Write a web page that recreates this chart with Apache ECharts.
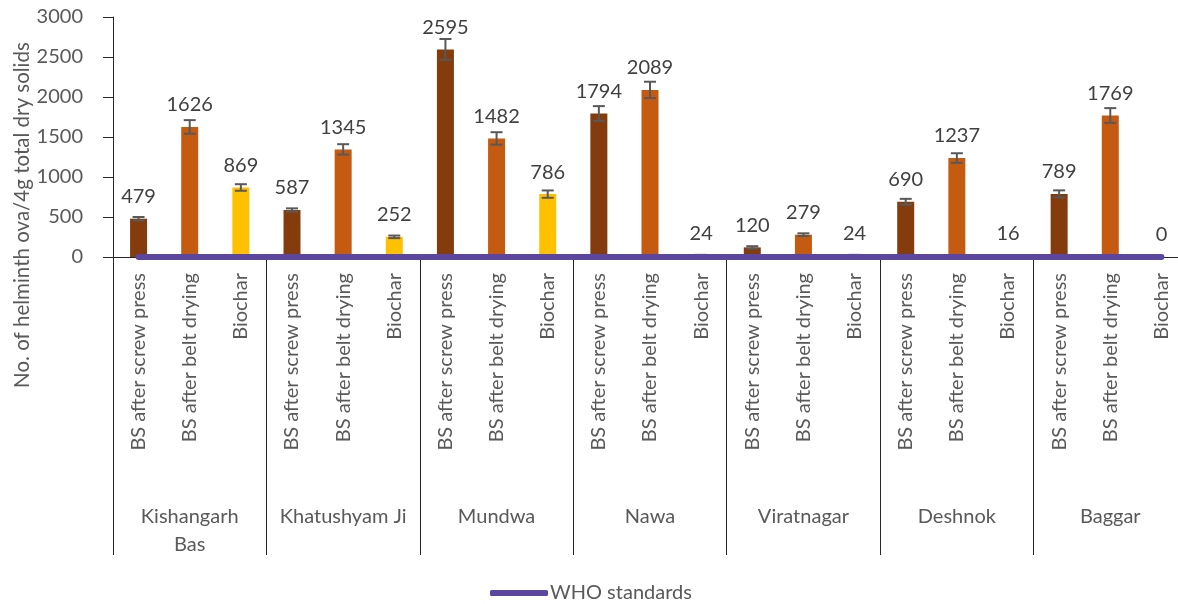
<!DOCTYPE html>
<html>
<head>
<meta charset="utf-8">
<script src="https://cdn.jsdelivr.net/npm/echarts@6/dist/echarts.min.js"></script>
<style>
html,body{margin:0;padding:0;background:#fff;overflow:hidden;}
#chart{width:1190px;height:604px;}
</style>
</head>
<body>
<div id="chart"></div>
<script>
// ---- data ----
const groups = ['Kishangarh\nBas', 'Khatushyam Ji', 'Mundwa', 'Nawa', 'Viratnagar', 'Deshnok', 'Baggar'];
const stages = ['BS after screw press', 'BS after belt drying', 'Biochar'];
const screwPress = [479, 587, 2595, 1794, 120, 690, 789];
const beltDrying = [1626, 1345, 1482, 2089, 279, 1237, 1769];
const biochar = [869, 252, 786, 24, 24, 16, 0];
const screwPressErr = [21, 21, 130, 92, 15, 37, 44];
const beltDryingErr = [85, 65, 78, 102, 17, 60, 92];
const biocharErr = [41, 16, 46, 3, 3, 2, 0];
const whoStandard = 0;
const yTicks = { min: 0, max: 3000, interval: 500 };
const yTitle = 'No. of helminth ova/4g total dry solids';
const legendName = 'WHO standards';

// ---- build ----
const colors = ['#843C0C', '#C55A11', '#FFC000'];
const cats = [], values = [], errs = [];
groups.forEach((g, i) => {
  [screwPress, beltDrying, biochar].forEach((arr, k) => {
    cats.push(stages[k]);
    values.push({ value: arr[i], itemStyle: { color: colors[k] } });
  });
  errs.push([cats.length - 3, screwPress[i], screwPressErr[i]]);
  errs.push([cats.length - 2, beltDrying[i], beltDryingErr[i]]);
  errs.push([cats.length - 1, biochar[i], biocharErr[i]]);
});
const whoLine = cats.map(() => whoStandard);

const FONT = 'Lato, "Open Sans", sans-serif';
const chart = echarts.init(document.getElementById('chart'));
chart.setOption({
  animation: false,
  textStyle: { fontFamily: FONT },
  grid: { left: 113, top: 17, right: 3, bottom: 347, containLabel: false },
  legend: {
    data: [legendName],
    top: 578,
    left: 485,
    icon: 'roundRect',
    itemWidth: 58,
    itemHeight: 6,
    itemGap: 10,
    textStyle: { fontSize: 20, color: '#595959', fontFamily: FONT, padding: [0, 0, 0, -3] }
  },
  graphic: [{
    type: 'text',
    x: 22, y: 215,
    rotation: Math.PI / 2,
    style: { text: yTitle, fontSize: 20.5, fill: '#595959', fontFamily: FONT, align: 'center', verticalAlign: 'middle' }
  }],
  xAxis: [{
    type: 'category',
    data: cats,
    position: 'bottom',
    axisLine: { show: true, lineStyle: { color: '#262626', width: 1 } },
    axisTick: { show: false },
    axisLabel: { rotate: 90, interval: 0, margin: 16, fontSize: 20, color: '#595959', fontFamily: FONT }
  }, {
    type: 'category',
    data: groups,
    position: 'bottom',
    offset: 0,
    axisLine: { show: false },
    axisTick: { show: true, length: 298, lineStyle: { color: '#262626', width: 1 } },
    axisLabel: { interval: 0, margin: 246, fontSize: 20, color: '#595959', fontFamily: FONT, lineHeight: 28 }
  }],
  yAxis: {
    type: 'value',
    min: yTicks.min, max: yTicks.max, interval: yTicks.interval,
    splitLine: { show: false },
    axisLine: { show: true, lineStyle: { color: '#262626', width: 1 } },
    axisTick: { show: true, length: 10, lineStyle: { color: '#262626' } },
    axisLabel: { margin: 30, fontSize: 20, color: '#595959', fontFamily: FONT, formatter: v => String(v) }
  },
  series: [{
    type: 'bar',
    xAxisIndex: 0,
    barWidth: 17,
    data: values,
    z: 2,
    label: { show: true, position: 'top', distance: 12, fontSize: 20, color: '#404040', fontFamily: FONT }
  }, {
    type: 'custom',
    xAxisIndex: 0,
    z: 3,
    data: errs,
    encode: { x: 0, y: 1 },
    renderItem: function (params, api) {
      const x = api.value(0), v = api.value(1), e = api.value(2);
      if (!e) return null;
      const hi = api.coord([x, v + e]);
      const lo = api.coord([x, v - e]);
      const w = 6;
      const st = { stroke: '#595959', lineWidth: 2 };
      return {
        type: 'group',
        children: [
          { type: 'line', shape: { x1: hi[0], y1: hi[1], x2: lo[0], y2: lo[1] }, style: st },
          { type: 'line', shape: { x1: hi[0] - w, y1: hi[1], x2: hi[0] + w, y2: hi[1] }, style: st },
          { type: 'line', shape: { x1: lo[0] - w, y1: lo[1], x2: lo[0] + w, y2: lo[1] }, style: st }
        ]
      };
    }
  }, {
    type: 'line',
    name: legendName,
    xAxisIndex: 0,
    data: whoLine,
    z: 5,
    showSymbol: false,
    symbol: 'none',
    color: '#5B47A0',
    lineStyle: { width: 6, color: '#5B47A0', cap: 'round' }
  }]
});
</script>
</body>
</html>
